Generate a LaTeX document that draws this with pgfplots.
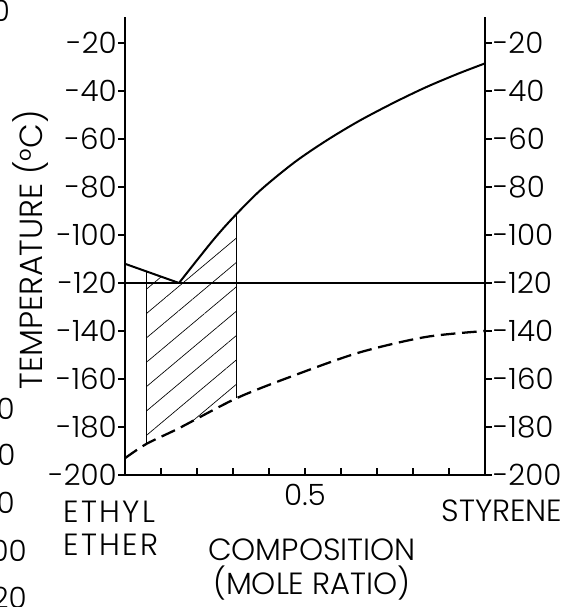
\documentclass[border=0pt]{standalone}
\usepackage{fontspec}
\setmainfont{Poppins}[UprightFont=* Light]
\usepackage{pgfplots}
\pgfplotsset{compat=1.18}
\usetikzlibrary{patterns.meta}
\newcommand{\tickfont}{\fontsize{22}{22}\selectfont}
\newcommand{\labfont}{\fontsize{23}{25}\selectfont}
\begin{document}
\begin{tikzpicture}
\path[use as bounding box] (-93.75pt,-99pt) rectangle (338.25pt,356.25pt);
\begin{axis}[
  at={(0,0)}, anchor=south west,
  scale only axis, width=270pt, height=343.8pt,
  xmin=0, xmax=1, ymin=-200, ymax=-9,
  axis x line*=bottom, axis y line*=left,
  axis line style={line width=0.8pt},
  xtick={0.1,0.2,0.3,0.4,0.5,0.6,0.7,0.8,0.9},
  xticklabels={,,,,0.5,,,,},
  xtick align=inside, ytick align=outside,
  major tick length=5pt,
  tick style={line width=0.8pt, black},
  ytick={-200,-180,-160,-140,-120,-100,-80,-60,-40,-20},
  yticklabels={-200,-180,-160,-140,-120,-100,-80,-60,-40,-20},
  yticklabel style={font=\tickfont, inner sep=1pt},
  xticklabel style={font=\tickfont, inner sep=2pt, yshift=-5pt},
  clip=false,
]
\addplot[draw=none, pattern={Lines[angle=40,distance=14pt,line width=0.5pt]}, pattern color=black]
  coordinates {(0.06,-115.2) (0.15,-120) (0.2,-110.5) (0.25,-101) (0.31,-91.8) (0.31,-168) (0.15,-180.5) (0.06,-187)};
\addplot[black, line width=1.5pt, smooth] coordinates {(0,-112) (0.06,-115.2) (0.15,-120)};
\addplot[black, line width=1.5pt, smooth] coordinates {(0.15,-120) (0.2,-110.5) (0.25,-101.2) (0.30,-92.8) (0.375,-81.5) (0.47,-69.8) (0.56,-60.6) (0.65,-52.5) (0.745,-45) (0.835,-38.5) (0.925,-32.8) (1,-28.5)};
\addplot[black, line width=0.8pt] coordinates {(0,-120) (1,-120)};
\addplot[black, line width=0.6pt] coordinates {(0.06,-115.2) (0.06,-187)};
\addplot[black, line width=0.6pt] coordinates {(0.31,-91.8) (0.31,-168)};
\addplot[black, line width=1.7pt, dash pattern=on 11pt off 5pt, smooth] coordinates {(0,-193) (0.06,-187) (0.15,-180.5) (0.31,-168) (0.47,-158.5) (0.65,-149) (0.835,-142.5) (1,-140)};
\end{axis}
\begin{axis}[
  at={(0,0)}, anchor=south west,
  scale only axis, width=270pt, height=343.8pt,
  xmin=0, xmax=1, ymin=-200, ymax=-9,
  axis x line=none, axis y line*=right,
  axis line style={line width=0.8pt},
  ytick align=outside, major tick length=5pt,
  tick style={line width=0.8pt, black},
  ytick={-200,-180,-160,-140,-120,-100,-80,-60,-40,-20},
  yticklabels={-200,-180,-160,-140,-120,-100,-80,-60,-40,-20},
  yticklabel style={font=\tickfont, inner sep=1pt},
]
\end{axis}
\node[rotate=90, font=\fontsize{24}{24}\selectfont] at (-70.5pt,168.75pt) {TEMPERATURE (°C)};
\node[align=left, font=\labfont\addfontfeature{LetterSpace=8}, inner sep=0pt, anchor=west] at (-46.5pt,-39.75pt) {ETHYL\\ETHER};
\node[font=\labfont, inner sep=0pt] at (282.75pt,-27pt) {STYRENE};
\node[align=center, font=\labfont, inner sep=0pt] at (140.25pt,-71pt) {COMPOSITION\\(MOLE RATIO)};
% clipped fragments of a neighbouring figure at the left edge
\node[font=\tickfont, anchor=east, inner sep=0pt] at (-86pt,348pt) {0};
\node[font=\tickfont, anchor=east, inner sep=0pt] at (-82.5pt,50pt) {60};
\node[font=\tickfont, anchor=east, inner sep=0pt] at (-82pt,15pt) {80};
\node[font=\tickfont, anchor=east, inner sep=0pt] at (-82.5pt,-21pt) {90};
\node[font=\tickfont, anchor=east, inner sep=0pt] at (-73.5pt,-57pt) {100};
\node[font=\tickfont, anchor=east, inner sep=0pt] at (-73.5pt,-92pt) {120};
\end{tikzpicture}
\end{document}
